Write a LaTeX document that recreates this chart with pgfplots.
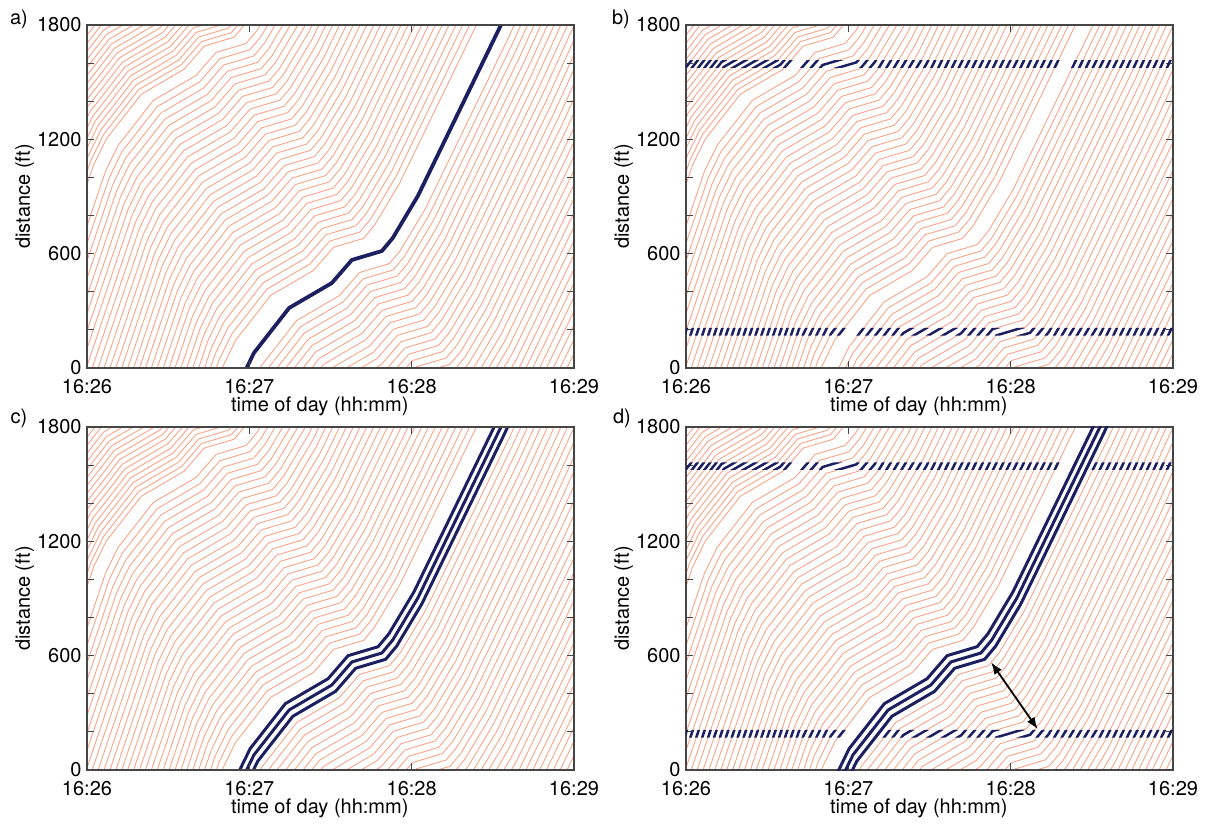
\documentclass[border=0pt]{standalone}
\usepackage{fontspec}
\setmainfont{TeX Gyre Heros}
\usepackage{pgfplots}
\pgfplotsset{compat=1.18}
\usepackage{pgfplotstable}
\usetikzlibrary{arrows.meta}

\definecolor{traj}{RGB}{248,164,138}
\definecolor{navy}{RGB}{28,32,96}
\definecolor{axisgray}{RGB}{70,70,70}
\newcommand{\lab}{\fontsize{10}{12}\selectfont}

% vehicle trajectories: time (s after 16:26) and distance (ft); nan rows split vehicles
\pgfplotstableread[row sep=\\]{
t x\\
29.2 -874\\ 50.2 8\\ 54.9 145\\ 67.9 381\\ 83.7 512\\ 91.1 633\\ 102.2 680\\ 106.2 748\\ 115.5 969\\ 146.2 1866\\ nan nan\\
27.8 -841\\ 48.8 41\\ 53.5 178\\ 66.5 414\\ 82.3 545\\ 89.7 666\\ 100.8 713\\ 104.8 781\\ 114.1 1002\\ 144.8 1899\\ nan nan\\
26.4 -808\\ 47.4 74\\ 52.1 211\\ 65.1 447\\ 80.9 578\\ 88.3 699\\ 99.4 746\\ 103.4 814\\ 112.7 1035\\ 143.4 1932\\ nan nan\\
25.0 -775\\ 46.0 107\\ 50.7 244\\ 63.7 480\\ 79.5 611\\ 86.9 732\\ 98.0 779\\ 102.0 847\\ 111.3 1068\\ 142.0 1965\\ nan nan\\
23.6 -742\\ 44.6 140\\ 49.3 277\\ 62.3 513\\ 78.1 644\\ 85.5 765\\ 96.6 812\\ 100.6 880\\ 109.9 1101\\ 140.6 1998\\ nan nan\\
22.2 -709\\ 43.2 173\\ 47.9 310\\ 60.9 546\\ 76.7 677\\ 84.1 798\\ 95.2 845\\ 99.2 913\\ 108.5 1134\\ 139.2 2031\\ nan nan\\
20.8 -676\\ 41.8 206\\ 46.5 343\\ 59.5 579\\ 75.3 710\\ 82.7 831\\ 93.8 878\\ 97.8 946\\ 107.1 1167\\ 137.8 2064\\ nan nan\\
19.4 -643\\ 40.4 239\\ 45.1 376\\ 58.1 612\\ 73.9 743\\ 81.3 864\\ 92.4 911\\ 96.4 979\\ 105.7 1200\\ 136.4 2097\\ nan nan\\
18.0 -610\\ 39.0 272\\ 43.7 409\\ 56.7 645\\ 72.5 776\\ 79.9 897\\ 91.0 944\\ 95.0 1012\\ 104.3 1233\\ 135.0 2130\\ nan nan\\
16.6 -577\\ 37.6 305\\ 42.3 442\\ 55.3 678\\ 71.1 809\\ 78.5 930\\ 89.6 977\\ 93.6 1045\\ 102.9 1266\\ 133.6 2163\\ nan nan\\
15.2 -544\\ 36.2 338\\ 40.9 475\\ 53.9 711\\ 69.7 842\\ 77.1 963\\ 88.2 1010\\ 92.2 1078\\ 101.5 1299\\ 132.2 2196\\ nan nan\\
13.8 -511\\ 34.8 371\\ 39.5 508\\ 52.5 744\\ 68.3 875\\ 75.7 996\\ 86.8 1043\\ 90.8 1111\\ 100.1 1332\\ 130.8 2229\\ nan nan\\
12.4 -478\\ 33.4 404\\ 38.1 541\\ 51.1 777\\ 66.9 908\\ 74.3 1029\\ 85.4 1076\\ 89.4 1144\\ 98.7 1365\\ 129.4 2262\\ nan nan\\
11.0 -445\\ 32.0 437\\ 36.7 574\\ 49.7 810\\ 65.5 941\\ 72.9 1062\\ 84.0 1109\\ 88.0 1177\\ 97.3 1398\\ 128.0 2295\\ nan nan\\
9.6 -412\\ 30.6 470\\ 35.3 607\\ 48.3 843\\ 64.1 974\\ 71.5 1095\\ 82.6 1142\\ 86.6 1210\\ 95.9 1431\\ 126.6 2328\\ nan nan\\
8.2 -379\\ 29.2 503\\ 33.9 640\\ 46.9 876\\ 62.7 1007\\ 70.1 1128\\ 81.2 1175\\ 85.2 1243\\ 94.5 1464\\ 125.2 2361\\ nan nan\\
6.8 -346\\ 27.8 536\\ 32.5 673\\ 45.5 909\\ 61.3 1040\\ 68.7 1161\\ 79.8 1208\\ 83.8 1276\\ 93.1 1497\\ 123.8 2394\\ nan nan\\
5.4 -313\\ 26.4 569\\ 31.1 706\\ 44.1 942\\ 59.9 1073\\ 67.3 1194\\ 78.4 1241\\ 82.4 1309\\ 91.7 1530\\ 122.4 2427\\ nan nan\\
4.0 -280\\ 25.0 602\\ 29.7 739\\ 42.7 975\\ 58.5 1106\\ 65.9 1227\\ 77.0 1274\\ 81.0 1342\\ 90.3 1563\\ 121.0 2460\\ nan nan\\
2.6 -247\\ 23.6 635\\ 28.3 772\\ 41.3 1008\\ 57.1 1139\\ 64.5 1260\\ 75.6 1307\\ 79.6 1375\\ 88.9 1596\\ 119.6 2493\\ nan nan\\
1.2 -214\\ 22.2 668\\ 26.9 805\\ 39.9 1041\\ 55.7 1172\\ 63.1 1293\\ 74.2 1340\\ 78.2 1408\\ 87.5 1629\\ 118.2 2526\\ nan nan\\
-0.2 -181\\ 20.8 701\\ 25.5 838\\ 38.5 1074\\ 54.3 1205\\ 61.7 1326\\ 72.8 1373\\ 76.8 1441\\ 86.1 1662\\ 116.8 2559\\ nan nan\\
-1.6 -148\\ 19.4 734\\ 24.1 871\\ 37.1 1107\\ 52.9 1238\\ 60.3 1359\\ 71.4 1406\\ 75.4 1474\\ 84.7 1695\\ 115.4 2592\\ nan nan\\
-3.0 -115\\ 18.0 767\\ 22.7 904\\ 35.7 1140\\ 51.5 1271\\ 58.9 1392\\ 70.0 1439\\ 74.0 1507\\ 83.3 1728\\ 114.0 2625\\ nan nan\\
-4.4 -82\\ 16.6 800\\ 21.3 937\\ 34.3 1173\\ 50.1 1304\\ 57.5 1425\\ 68.6 1472\\ 72.6 1540\\ 81.9 1761\\ 112.6 2658\\ nan nan\\
-5.8 -49\\ 15.2 833\\ 19.9 970\\ 32.9 1206\\ 48.7 1337\\ 56.1 1458\\ 67.2 1505\\ 71.2 1573\\ 80.5 1794\\ 111.2 2691\\ nan nan\\
-7.2 -16\\ 13.8 866\\ 18.5 1003\\ 31.5 1239\\ 47.3 1370\\ 54.7 1491\\ 65.8 1538\\ 69.8 1606\\ 79.1 1827\\ nan nan\\
-8.6 17\\ 12.4 899\\ 17.1 1036\\ 30.1 1272\\ 45.9 1403\\ 53.3 1524\\ 64.4 1571\\ 68.4 1639\\ 77.7 1860\\ nan nan\\
-10.0 50\\ 11.0 932\\ 15.7 1069\\ 28.7 1305\\ 44.5 1436\\ 51.9 1557\\ 63.0 1604\\ 67.0 1672\\ 76.3 1893\\ nan nan\\
-11.4 83\\ 9.6 965\\ 14.3 1102\\ 27.3 1338\\ 43.1 1469\\ 50.5 1590\\ 61.6 1637\\ 65.6 1705\\ 74.9 1926\\ nan nan\\
-12.8 116\\ 8.2 998\\ 12.9 1135\\ 25.9 1371\\ 41.7 1502\\ 49.1 1623\\ 60.2 1670\\ 64.2 1738\\ 73.5 1959\\ nan nan\\
-14.2 149\\ 6.8 1031\\ 11.5 1168\\ 24.5 1404\\ 40.3 1535\\ 47.7 1656\\ 58.8 1703\\ 62.8 1771\\ 72.1 1992\\ nan nan\\
-18.6 182\\ 2.4 1064\\ 7.1 1201\\ 20.1 1437\\ 35.9 1568\\ 43.3 1689\\ 54.4 1736\\ 58.4 1804\\ nan nan\\
-19.6 206\\ 1.4 1088\\ 6.1 1225\\ 19.1 1461\\ 34.9 1592\\ 42.3 1713\\ 53.4 1760\\ 57.4 1828\\ nan nan\\
-20.6 230\\ 0.4 1112\\ 5.1 1249\\ 18.1 1485\\ 33.9 1616\\ 41.3 1737\\ 52.4 1784\\ 56.4 1852\\ nan nan\\
-0.6 1136\\ 4.1 1273\\ 17.1 1509\\ 32.9 1640\\ 40.3 1761\\ 51.4 1808\\ nan nan\\
-1.6 1160\\ 3.1 1297\\ 16.1 1533\\ 31.9 1664\\ 39.3 1785\\ 50.4 1832\\ nan nan\\
-2.6 1184\\ 2.1 1321\\ 15.1 1557\\ 30.9 1688\\ 38.3 1809\\ nan nan\\
-3.6 1208\\ 1.1 1345\\ 14.1 1581\\ 29.9 1712\\ 37.3 1833\\ nan nan\\
-4.6 1232\\ 0.1 1369\\ 13.1 1605\\ 28.9 1736\\ 36.3 1857\\ nan nan\\
-0.9 1393\\ 12.1 1629\\ 27.9 1760\\ 35.3 1881\\ nan nan\\
-1.9 1417\\ 11.1 1653\\ 26.9 1784\\ 34.3 1905\\ nan nan\\
-2.9 1441\\ 10.1 1677\\ 25.9 1808\\ nan nan\\
-3.9 1465\\ 9.1 1701\\ 24.9 1832\\ nan nan\\
-4.9 1489\\ 8.1 1725\\ 23.9 1856\\ nan nan\\
-5.9 1513\\ 7.1 1749\\ 22.9 1880\\ nan nan\\
-6.9 1537\\ 6.1 1773\\ 21.9 1904\\ nan nan\\
-7.9 1561\\ 5.1 1797\\ 20.9 1928\\ nan nan\\
-8.9 1585\\ 4.1 1821\\ nan nan\\
-9.9 1609\\ 3.1 1845\\ nan nan\\
59.8 -124\\ 64.5 13\\ 77.5 249\\ 93.3 380\\ 100.7 501\\ 111.8 548\\ 115.8 616\\ 125.1 837\\ 155.8 1734\\ 192.8 2884\\ nan nan\\
65.9 -20\\ 78.9 216\\ 94.7 347\\ 102.1 468\\ 113.2 515\\ 117.2 583\\ 126.5 804\\ 157.2 1701\\ 194.2 2851\\ nan nan\\
67.3 -53\\ 80.3 183\\ 96.1 314\\ 103.5 435\\ 114.6 482\\ 118.6 550\\ 127.9 771\\ 158.6 1668\\ 195.6 2818\\ nan nan\\
68.7 -86\\ 81.7 150\\ 97.5 281\\ 104.9 402\\ 116.0 449\\ 120.0 517\\ 129.3 738\\ 160.0 1635\\ 197.0 2785\\ nan nan\\
70.1 -119\\ 83.1 117\\ 98.9 248\\ 106.3 369\\ 117.4 416\\ 121.4 484\\ 130.7 705\\ 161.4 1602\\ 198.4 2752\\ nan nan\\
71.5 -152\\ 84.5 84\\ 100.3 215\\ 107.7 336\\ 118.8 383\\ 122.8 451\\ 132.1 672\\ 162.8 1569\\ 199.8 2719\\ nan nan\\
72.9 -185\\ 85.9 51\\ 101.7 182\\ 109.1 303\\ 120.2 350\\ 124.2 418\\ 133.5 639\\ 164.2 1536\\ 201.2 2686\\ nan nan\\
74.3 -218\\ 87.3 18\\ 103.1 149\\ 110.5 270\\ 121.6 317\\ 125.6 385\\ 134.9 606\\ 165.6 1503\\ 202.6 2653\\ nan nan\\
88.7 -15\\ 104.5 116\\ 111.9 237\\ 123.0 284\\ 127.0 352\\ 136.3 573\\ 167.0 1470\\ 204.0 2620\\ nan nan\\
90.1 -48\\ 105.9 83\\ 113.3 204\\ 124.4 251\\ 128.4 319\\ 137.7 540\\ 168.4 1437\\ 205.4 2587\\ nan nan\\
91.5 -81\\ 107.3 50\\ 114.7 171\\ 125.8 218\\ 129.8 286\\ 139.1 507\\ 169.8 1404\\ 206.8 2554\\ nan nan\\
92.9 -114\\ 108.7 17\\ 116.1 138\\ 127.2 185\\ 131.2 253\\ 140.5 474\\ 171.2 1371\\ 208.2 2521\\ nan nan\\
110.1 -16\\ 117.5 105\\ 128.6 152\\ 132.6 220\\ 141.9 441\\ 172.6 1338\\ 209.6 2488\\ nan nan\\
111.5 -49\\ 118.9 72\\ 130.0 119\\ 134.0 187\\ 143.3 408\\ 174.0 1305\\ 211.0 2455\\ nan nan\\
112.9 -82\\ 120.3 39\\ 131.4 86\\ 135.4 154\\ 144.7 375\\ 175.4 1272\\ 212.4 2422\\ nan nan\\
114.3 -115\\ 121.7 6\\ 132.8 53\\ 136.8 121\\ 146.1 342\\ 176.8 1239\\ 213.8 2389\\ nan nan\\
123.1 -27\\ 134.2 20\\ 138.2 88\\ 147.5 309\\ 178.2 1206\\ 215.2 2356\\ nan nan\\
124.5 -60\\ 135.6 -13\\ 139.6 55\\ 148.9 276\\ 179.6 1173\\ 216.6 2323\\ nan nan\\
137.0 -46\\ 141.0 22\\ 150.3 243\\ 181.0 1140\\ nan nan\\
138.4 -79\\ 142.4 -11\\ 151.7 210\\ 182.4 1107\\ nan nan\\
143.8 -44\\ 153.1 177\\ 183.8 1074\\ nan nan\\
145.2 -77\\ 154.5 144\\ 185.2 1041\\ nan nan\\
146.6 -110\\ 155.9 111\\ 186.6 1008\\ nan nan\\
148.0 -143\\ 157.3 78\\ 188.0 975\\ nan nan\\
149.4 -176\\ 158.7 45\\ 189.4 942\\ nan nan\\
150.8 -209\\ 160.1 12\\ 190.8 909\\ nan nan\\
161.5 -21\\ 192.2 876\\ nan nan\\
162.9 -54\\ 193.6 843\\ nan nan\\
164.3 -87\\ 195.0 810\\ nan nan\\
165.7 -120\\ 196.4 777\\ nan nan\\
167.1 -153\\ 197.8 744\\ nan nan\\
168.5 -186\\ 199.2 711\\ nan nan\\
169.9 -219\\ 200.6 678\\ nan nan\\
171.3 -252\\ 202.0 645\\
}\redtab

% the three probe vehicles (front, middle, rear)
\pgfplotstableread[row sep=\\]{
t x\\
55.6 -25\\ 60.3 112\\ 73.3 348\\ 89.1 479\\ 96.5 600\\ 107.6 647\\ 111.6 715\\ 120.9 936\\ 151.6 1833\\ nan nan\\
57.0 -58\\ 61.7 79\\ 74.7 315\\ 90.5 446\\ 97.9 567\\ 109.0 614\\ 113.0 682\\ 122.3 903\\ 153.0 1800\\ 190.0 2950\\ nan nan\\
58.4 -91\\ 63.1 46\\ 76.1 282\\ 91.9 413\\ 99.3 534\\ 110.4 581\\ 114.4 649\\ 123.7 870\\ 154.4 1767\\ 191.4 2917\\
}\probetab

\pgfplotsset{
  box/.style={
    scale only axis, width=243.5pt, height=171.5pt,
    xmin=0, xmax=180, ymin=0, ymax=1800,
    anchor=south west, unbounded coords=jump,
  },
  panel/.style={
    box, axis on top,
    xtick={0,60,120,180}, xticklabels={16:26,16:27,16:28,16:29},
    ytick={0,200,...,1800}, yticklabels={0,,,600,,,1200,,,1800},
    tick align=inside, major tick length=3.5pt,
    axis line style={draw=axisgray, line width=0.6pt},
    every tick/.style={draw=axisgray, line width=0.6pt},
    tick label style={font=\lab, inner sep=0pt},
    xticklabel style={yshift=-5.6pt},
    yticklabel style={xshift=-2.5pt},
    label style={font=\lab, inner sep=0pt},
    xlabel={time of day (hh:mm)}, ylabel={distance (ft)},
    xlabel style={at={(axis description cs:0.478,-0.112)}, anchor=center},
    ylabel style={at={(axis description cs:-0.128,0.5)}, anchor=center},
  },
  ghost/.style={box, hide axis},
  red lines/.style={traj, line width=0.45pt},
  dashes/.style={navy, line width=1.25pt},
  probe/.style={navy, line width=1.5pt, line join=round},
}

\begin{document}
\begin{tikzpicture}
\path (0,0) rectangle (608.5pt,413pt);

% a) one probe vehicle
\begin{axis}[panel, at={(43.5pt,229pt)}]
  \addplot[red lines] table[x=t, y=x] {\redtab};
  \addplot[navy, line width=1.9pt, line join=round] coordinates {(57,-58) (61.7,79) (74.7,315) (90.5,446) (97.9,567) (109,614) (113,682) (122.3,903) (153,1800)};
\end{axis}

% b) loop detectors
\begin{axis}[panel, at={(343pt,229pt)}]
  \addplot[red lines] table[x=t, y=x] {\redtab};
  \addplot[red lines] table[x=t, y=x] {\probetab};
  \coordinate (b1) at (axis cs:0,170);
  \coordinate (b2) at (axis cs:180,210);
  \coordinate (b3) at (axis cs:0,1575);
  \coordinate (b4) at (axis cs:180,1615);
\end{axis}
\begin{scope}
  \clip (b1) rectangle (b2) (b3) rectangle (b4);
  \begin{axis}[ghost, at={(343pt,229pt)}]
    \addplot[dashes] table[x=t, y=x] {\redtab};
    \addplot[dashes] table[x=t, y=x] {\probetab};
  \end{axis}
\end{scope}

% c) three probe vehicles
\begin{axis}[panel, at={(43.5pt,28pt)}]
  \addplot[red lines] table[x=t, y=x] {\redtab};
  \addplot[probe] table[x=t, y=x] {\probetab};
\end{axis}

% d) probes and detectors
\begin{axis}[panel, at={(343pt,28pt)}]
  \addplot[red lines] table[x=t, y=x] {\redtab};
  \coordinate (d1) at (axis cs:0,170);
  \coordinate (d2) at (axis cs:180,210);
  \coordinate (d3) at (axis cs:0,1575);
  \coordinate (d4) at (axis cs:180,1615);
\end{axis}
\begin{scope}
  \clip (d1) rectangle (d2) (d3) rectangle (d4);
  \begin{axis}[ghost, at={(343pt,28pt)}]
    \addplot[dashes] table[x=t, y=x] {\redtab};
    \addplot[dashes] table[x=t, y=x] {\probetab};
  \end{axis}
\end{scope}
\begin{axis}[ghost, at={(343pt,28pt)}]
  \addplot[probe] table[x=t, y=x] {\probetab};
  \draw[{Latex[length=6pt,width=4.5pt]}-{Latex[length=6pt,width=4.5pt]}, line width=0.9pt, black] (axis cs:112.8,565) -- (axis cs:130,214);
\end{axis}

\node[font=\lab] at (9.5pt,403.5pt) {a)};
\node[font=\lab] at (310.5pt,403.5pt) {b)};
\node[font=\lab] at (9.5pt,204pt) {c)};
\node[font=\lab] at (311pt,204pt) {d)};
\end{tikzpicture}
\end{document}
